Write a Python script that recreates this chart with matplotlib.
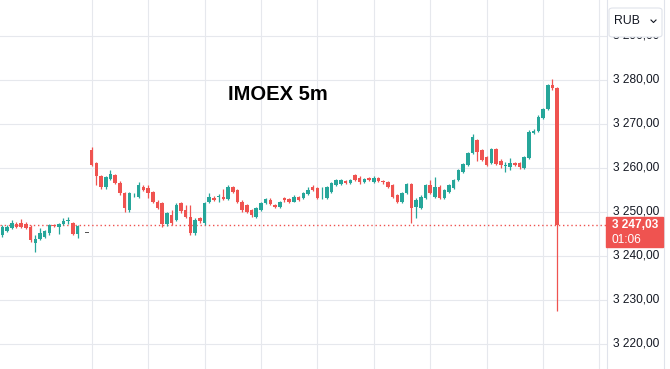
import matplotlib.pyplot as plt
import matplotlib.transforms as mtransforms
from matplotlib.patches import Rectangle, FancyBboxPatch
from matplotlib.lines import Line2D

# 5m candles, first bar index is -19 (previous session), session start at 0
first_bar = -19
opens = [3244.7, 3245.6, 3246.3, 3247.2, 3247.4, 3247.2, 3246.5, 3242.8, 3243.7, 3244.3,
         3245.1, 3247.0, 3246.6, 3247.2, 3247.9, 3247.4, 3244.9, None, 3245.2,
         3264.0, 3261.0, 3258.0, 3255.5, 3257.4, 3258.3, 3256.6, 3254.2, 3250.4, 3253.7,
         3253.4, 3255.7, 3255.4, 3254.5, 3252.3, 3251.9, 3247.1, 3249.2, 3248.1, 3251.9,
         3250.4, 3248.9, 3245.1, 3248.5, 3247.4, 3252.3, 3253.2, 3253.3, 3253.4, 3252.9,
         3255.7, 3254.9, 3252.3, 3251.5, 3250.4, 3248.9, 3250.4, 3251.9, 3252.7, 3251.5,
         3251.1, 3253.0, 3252.9, 3252.3, 3253.3, 3253.0, 3254.0, 3255.5, 3255.3, 3253.0,
         3253.0, 3254.5, 3256.1, 3256.2, 3257.0, 3256.5, 3258.3, 3257.7, 3256.8, 3257.6,
         3256.8, 3257.6, 3257.0, 3256.8, 3256.1, 3253.8, 3252.3, 3254.2, 3256.2, 3251.1,
         3250.8, 3253.1, 3256.1, 3253.4, 3255.7, 3253.0, 3254.5, 3255.3, 3257.2, 3259.1,
         3260.6, 3263.3, 3266.3, 3264.0, 3262.4, 3261.0, 3264.2, 3261.6, 3260.4, 3260.2,
         3261.0, 3261.0, 3259.9, 3262.3, 3267.9, 3268.4, 3271.2, 3273.3, 3278.8, 3278.0]
highs = [3247.0, 3246.9, 3248.0, 3247.6, 3248.3, 3247.7, 3246.9, 3244.6, 3246.3, 3245.9,
         3247.3, 3247.2, 3247.4, 3248.6, 3248.7, 3247.7, 3247.0, None, 3245.2,
         3264.6, 3261.3, 3258.3, 3258.0, 3259.5, 3258.6, 3256.9, 3254.5, 3254.5, 3254.3,
         3256.8, 3256.1, 3256.1, 3254.8, 3252.6, 3252.2, 3250.0, 3250.4, 3251.9, 3252.2,
         3251.5, 3251.5, 3248.5, 3248.8, 3252.2, 3254.2, 3253.5, 3254.0, 3255.1, 3256.0,
         3255.9, 3255.2, 3252.6, 3251.8, 3250.7, 3251.0, 3252.2, 3253.1, 3253.0, 3251.7,
         3252.5, 3253.3, 3253.2, 3253.7, 3253.6, 3254.5, 3255.7, 3256.1, 3255.6, 3255.5,
         3255.8, 3256.8, 3257.4, 3257.5, 3257.3, 3257.4, 3258.5, 3258.0, 3257.7, 3257.9,
         3258.0, 3257.8, 3257.2, 3257.0, 3256.3, 3254.0, 3254.5, 3256.5, 3256.5, 3253.0,
         3253.7, 3256.4, 3257.2, 3257.8, 3256.0, 3255.2, 3256.3, 3257.5, 3259.8, 3261.1,
         3263.6, 3267.6, 3266.6, 3264.3, 3262.7, 3264.5, 3264.5, 3261.9, 3261.4, 3262.1,
         3261.3, 3261.3, 3262.7, 3268.5, 3268.8, 3271.9, 3273.6, 3279.1, 3280.1, 3278.3]
lows = [3244.3, 3245.3, 3246.0, 3246.2, 3246.2, 3246.0, 3243.0, 3240.8, 3243.5, 3244.0,
        3244.8, 3246.5, 3245.0, 3247.0, 3247.3, 3244.6, 3244.1, None, 3245.2,
        3260.3, 3256.1, 3255.2, 3255.2, 3257.2, 3256.2, 3253.9, 3250.0, 3250.0, 3253.4,
        3253.2, 3254.6, 3253.0, 3251.9, 3250.6, 3246.5, 3246.8, 3247.0, 3247.8, 3249.8,
        3248.6, 3244.6, 3244.7, 3247.5, 3247.0, 3252.0, 3252.4, 3252.3, 3252.6, 3252.6,
        3254.2, 3252.0, 3250.0, 3249.6, 3248.9, 3248.5, 3250.2, 3251.7, 3251.5, 3250.8,
        3250.9, 3252.3, 3252.0, 3252.1, 3252.4, 3252.8, 3253.8, 3254.6, 3252.8, 3252.9,
        3252.8, 3254.3, 3255.9, 3256.0, 3256.2, 3256.3, 3256.9, 3256.4, 3256.6, 3257.0,
        3256.6, 3256.8, 3256.4, 3255.4, 3253.1, 3252.0, 3252.0, 3254.0, 3247.4, 3248.5,
        3250.5, 3252.9, 3254.0, 3253.2, 3252.8, 3252.8, 3254.3, 3255.1, 3257.0, 3258.9,
        3260.4, 3263.1, 3261.5, 3261.5, 3260.3, 3260.8, 3260.5, 3259.9, 3259.1, 3259.5,
        3260.3, 3259.7, 3259.6, 3262.0, 3267.6, 3268.2, 3271.0, 3273.0, 3277.7, 3227.5]
closes = [3246.5, 3246.5, 3247.4, 3246.5, 3246.5, 3246.3, 3243.6, 3243.9, 3245.2, 3245.5,
          3247.0, 3246.7, 3247.1, 3247.8, 3248.0, 3244.9, 3246.8, None, 3245.2,
          3260.6, 3258.0, 3255.5, 3257.8, 3258.5, 3256.5, 3254.2, 3250.8, 3254.2, 3253.9,
          3256.1, 3254.9, 3254.2, 3252.1, 3250.9, 3247.1, 3249.6, 3247.4, 3251.5, 3250.2,
          3248.9, 3245.1, 3248.1, 3247.9, 3251.9, 3253.4, 3252.7, 3253.4, 3252.8, 3255.7,
          3254.5, 3252.3, 3250.4, 3250.0, 3249.2, 3250.8, 3251.9, 3252.9, 3251.7, 3251.1,
          3252.3, 3252.6, 3252.3, 3253.4, 3252.7, 3254.2, 3254.9, 3254.9, 3253.0, 3253.1,
          3255.5, 3256.5, 3257.2, 3257.2, 3256.5, 3257.2, 3257.2, 3256.7, 3257.4, 3257.2,
          3257.7, 3257.0, 3256.7, 3255.7, 3253.4, 3252.3, 3254.2, 3256.2, 3250.8, 3252.6,
          3253.4, 3256.1, 3254.2, 3255.7, 3253.0, 3254.9, 3256.1, 3257.2, 3259.5, 3260.8,
          3263.3, 3267.0, 3263.6, 3261.8, 3260.6, 3264.2, 3260.8, 3260.6, 3260.5, 3261.0,
          3260.6, 3260.1, 3262.4, 3268.2, 3268.4, 3271.6, 3273.3, 3278.8, 3278.0, 3247.03]

last_price = 3247.03
countdown = '01:06'
price_ticks = [3220, 3230, 3240, 3250, 3260, 3270, 3280, 3290]
hour_bars = [0, 12, 24, 36, 48, 60, 72, 84, 96, 108]

up_col = '#26a69a'
down_col = '#ef5350'

fig = plt.figure(figsize=(6.7, 3.69), dpi=100)
ax = fig.add_axes([0, 0, 607 / 670, 1])

for i in range(len(opens)):
    o, h, l, c = opens[i], highs[i], lows[i], closes[i]
    if o is None:
        continue
    x = first_bar + i
    if c > o:
        col = up_col
    elif c < o:
        col = down_col
    else:
        col = '#555555'
    ax.vlines(x, l, h, color=col, lw=0.9, zorder=3)
    ax.bar(x, max(abs(c - o), 0.2), bottom=min(o, c), width=0.75, color=col,
           linewidth=0, zorder=4)

ax.axhline(last_price, color=down_col, lw=1, ls=(0, (1, 2)), zorder=2)

ax.set_xlim(-19.5, 109.6)
ax.set_ylim(3214.25, 3298.1)
ax.set_yticks(price_ticks)
ax.set_xticks(hour_bars)
ax.tick_params(length=0, labelleft=False, labelbottom=False)
ax.grid(color='#e6e8ed', lw=0.8)
for s in ax.spines.values():
    s.set_visible(False)

# price scale
trans = mtransforms.blended_transform_factory(fig.transFigure, ax.transData)
for p in price_ticks:
    lab = f'{p // 1000} {p % 1000:03d},00'
    fig.text(636 / 670, p, lab, transform=trans, ha='center', va='center',
             fontsize=8.6, family='Liberation Sans', color='#131722')

fig.add_artist(Line2D([607 / 670, 607 / 670], [0, 1], color='#e0e3eb', lw=0.8))
fig.add_artist(Line2D([664 / 670, 664 / 670], [0, 1], color='#e0e3eb', lw=0.8))

# last price label
y0 = (369 - 247) / 369
y1 = (369 - 217) / 369
fig.add_artist(Rectangle((606 / 670, y0), 57 / 670, y1 - y0, color=down_col, zorder=5))
fig.text(612 / 670, (369 - 225) / 369, f'{int(last_price) // 1000} {last_price % 1000:06.2f}'.replace('.', ','),
         ha='left', va='center', fontsize=8.6, family='Liberation Sans',
         color='white', weight='bold', zorder=6)
fig.text(612 / 670, (369 - 240) / 369, countdown, ha='left', va='center', fontsize=8.6,
         family='Liberation Sans', color='white', zorder=6)

# currency button
fig.add_artist(FancyBboxPatch((609 / 670, (369 - 37) / 369), 53 / 670, 29 / 369,
                              boxstyle='round,pad=0,rounding_size=0.006',
                              facecolor='white', edgecolor='#e0e3eb', lw=0.8, zorder=7))
fig.text(614 / 670, (369 - 21.5) / 369, 'RUB', ha='left', va='center', fontsize=8.8,
         family='Liberation Sans', color='#131722', zorder=8)
fig.add_artist(Line2D([651 / 670, 653.5 / 670, 656 / 670],
                      [(369 - 20) / 369, (369 - 22.5) / 369, (369 - 20) / 369],
                      color='#131722', lw=0.8, zorder=8))

fig.text(278 / 670, 1 - 95 / 369, 'IMOEX 5m', ha='center', va='center', fontsize=14.5,
         weight='bold', family='Liberation Sans', color='black')

fig.savefig('out.png', dpi=100)
